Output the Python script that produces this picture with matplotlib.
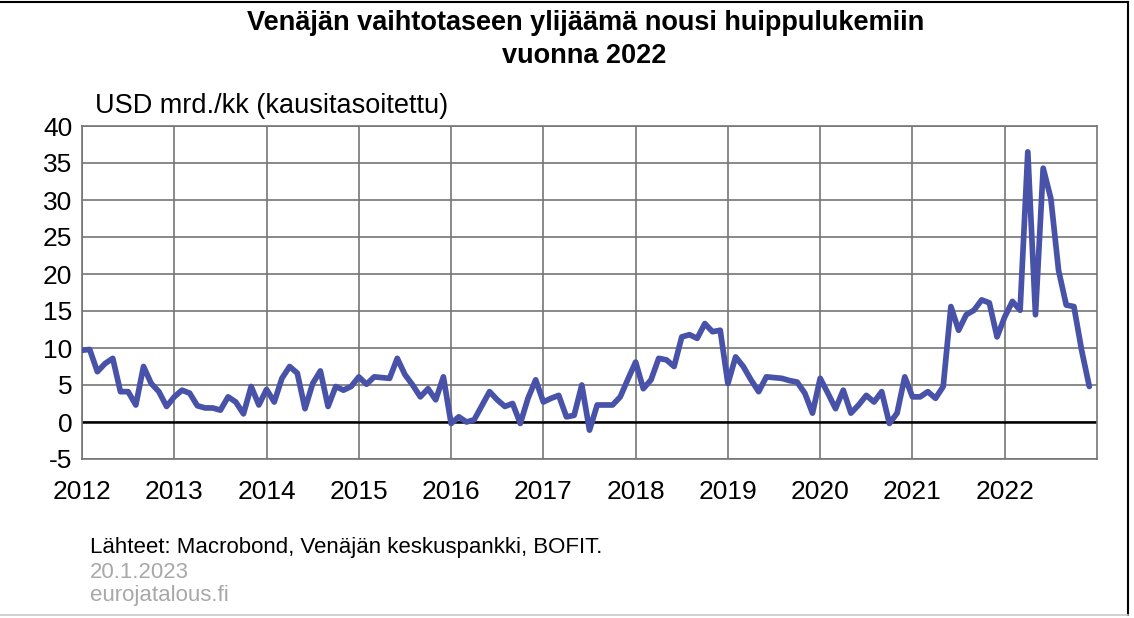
import numpy as np
import matplotlib.pyplot as plt
from matplotlib.lines import Line2D

plt.rcParams['font.family'] = ['Liberation Sans', 'DejaVu Sans']
plt.rcParams['axes.unicode_minus'] = False

# Monthly current account surplus, USD bn (seasonally adjusted), Jan..Dec
v2012 = [9.7, 9.8, 6.8, 7.9, 8.6, 4.1, 4.1, 2.3, 7.5, 5.2, 4.1, 2.1]
v2013 = [3.4, 4.3, 3.9, 2.2, 1.9, 1.9, 1.6, 3.4, 2.7, 1.1, 4.8, 2.3]
v2014 = [4.4, 2.7, 5.9, 7.5, 6.6, 1.8, 5.2, 6.9, 2.1, 4.8, 4.3, 4.8]
v2015 = [6.1, 5.1, 6.1, 6.0, 5.9, 8.6, 6.4, 5.0, 3.4, 4.5, 3.0, 6.1]
v2016 = [-0.2, 0.7, 0.0, 0.3, 2.2, 4.1, 3.0, 2.1, 2.5, -0.2, 3.2, 5.7]
v2017 = [2.7, 3.2, 3.6, 0.7, 0.9, 5.0, -1.1, 2.3, 2.3, 2.3, 3.4, 5.8]
v2018 = [8.1, 4.5, 5.7, 8.6, 8.4, 7.5, 11.5, 11.8, 11.3, 13.3, 12.2, 12.4]
v2019 = [5.2, 8.8, 7.5, 5.7, 4.1, 6.1, 6.0, 5.9, 5.6, 5.4, 3.9, 1.2]
v2020 = [5.9, 3.9, 1.8, 4.3, 1.2, 2.3, 3.6, 2.7, 4.1, -0.2, 1.2, 6.1]
v2021 = [3.4, 3.4, 4.1, 3.2, 4.8, 15.6, 12.4, 14.5, 15.1, 16.5, 16.1, 11.5]
v2022 = [14.2, 16.3, 15.1, 36.5, 14.5, 34.3, 30.2, 20.5, 15.8, 15.6, 9.7, 4.8]

surplus = np.array(v2012 + v2013 + v2014 + v2015 + v2016 + v2017
                   + v2018 + v2019 + v2020 + v2021 + v2022)
years = list(range(2012, 2023))
t = 2012 + np.arange(len(surplus)) / 12

W, H = 1134, 618
fig = plt.figure(figsize=(W / 100, H / 100), dpi=100)
ax = fig.add_axes([82 / W, 1 - 459 / H, (1097 - 82) / W, (459 - 126) / H])

ax.plot(t, surplus, color='#4852a8', lw=4.1, solid_joinstyle='round',
        solid_capstyle='round', zorder=3)
ax.axhline(0, color='black', lw=1.8, zorder=2)

ax.set_xlim(2012, 2023)
ax.set_ylim(-5, 40)
ax.set_xticks(years)
ax.set_xticklabels([str(y) for y in years])
ax.set_yticks(range(-5, 41, 5))
ax.grid(color='#757575', lw=1.2)
ax.set_axisbelow(True)
ax.tick_params(length=0, labelsize=19)
ax.tick_params(axis='x', pad=15)
ax.tick_params(axis='y', pad=7)
for s in ax.spines.values():
    s.set_color('#757575')
    s.set_linewidth(1.2)

# Title and labels
fig.text(586 / W, 1 - 23 / H, 'Venäjän vaihtotaseen ylijäämä nousi huippulukemiin',
         ha='center', va='center', fontsize=19.5, fontweight='bold')
fig.text(584 / W, 1 - 56 / H, 'vuonna 2022',
         ha='center', va='center', fontsize=19.5, fontweight='bold')
fig.text(95 / W, 1 - 106 / H, 'USD mrd./kk (kausitasoitettu)',
         ha='left', va='center', fontsize=19.5)

fig.text(90 / W, 1 - 548 / H, 'Lähteet: Macrobond, Venäjän keskuspankki, BOFIT.',
         ha='left', va='center', fontsize=16)
fig.text(90 / W, 1 - 572 / H, '20.1.2023', ha='left', va='center',
         fontsize=16, color='#a8a8a8')
fig.text(90 / W, 1 - 596 / H, 'eurojatalous.fi', ha='left', va='center',
         fontsize=16, color='#a8a8a8')

# Image frame
fig.add_artist(Line2D([0, 1128 / W], [1 - 2 / H] * 2, color='black', lw=1.5))
fig.add_artist(Line2D([1128 / W] * 2, [1 - 615 / H, 1 - 2 / H], color='black', lw=1.5))
fig.add_artist(Line2D([0, 1128 / W], [1 - 615 / H] * 2, color='#c8c8c8', lw=1.2))

fig.savefig('out.png', dpi=100)
